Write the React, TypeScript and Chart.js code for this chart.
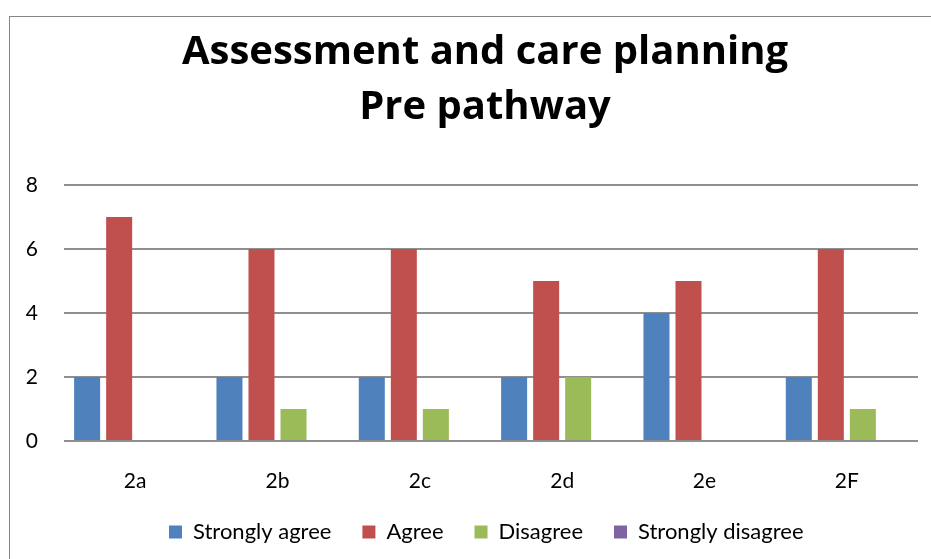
import React, { useEffect, useRef } from "react";
import { Chart, registerables } from "chart.js";
Chart.register(...registerables);

const categories = ["2a", "2b", "2c", "2d", "2e", "2F"];
const stronglyAgree = [2, 2, 2, 2, 4, 2];
const agree = [7, 6, 6, 5, 5, 6];
const disagree = [0, 1, 1, 2, 0, 1];
const stronglyDisagree = [0, 0, 0, 0, 0, 0];
const titleLines = ["Assessment and care planning", "Pre pathway"];
const seriesNames = ["Strongly agree", "Agree", "Disagree", "Strongly disagree"];

const FONT = "Lato, 'Open Sans', sans-serif";
const TITLE_FONT = "'Open Sans', Lato, sans-serif";

const boxShift = {
  id: "boxShift",
  afterLayout(chart: any) {
    const lg = chart.legend;
    if (lg) {
      const pad = lg.options.labels.padding;
      lg.left = 159 - pad;
      lg.top = 504 - pad;
    }
    const tb = chart.titleBlock;
    if (tb) {
      tb.left += 21;
      tb.right += 21;
    }
  },
};

export default function App() {
  const ref = useRef<HTMLCanvasElement>(null);
  useEffect(() => {
    if (!ref.current) return;
    const chart = new Chart(ref.current, {
      type: "bar",
      data: {
        labels: categories,
        datasets: [
          { label: seriesNames[0], data: stronglyAgree, backgroundColor: "#4F81BD" },
          { label: seriesNames[1], data: agree, backgroundColor: "#C0504D" },
          { label: seriesNames[2], data: disagree, backgroundColor: "#9BBB59" },
          { label: seriesNames[3], data: stronglyDisagree, backgroundColor: "#8064A2" },
        ],
      },
      plugins: [boxShift],
      options: {
        animation: false,
        responsive: true,
        maintainAspectRatio: false,
        layout: { padding: { left: 0, right: 13, top: 0, bottom: 0 } },
        datasets: { bar: { categoryPercentage: 0.9, barPercentage: 0.8125 } },
        plugins: {
          title: {
            display: true,
            text: titleLines,
            color: "#000",
            font: { family: TITLE_FONT, size: 40, weight: "bold", lineHeight: 1.375 },
            padding: { top: 8, bottom: 50 },
          },
          legend: {
            position: "bottom",
            align: "start",
            labels: {
              color: "#000",
              font: { family: FONT, size: 22 },
              boxWidth: 13,
              boxHeight: 13,
              padding: 31,
            },
          },
          tooltip: { enabled: false },
        },
        scales: {
          x: {
            afterFit: (s: any) => { s.height = 55; },
            grid: { display: false },
            border: { display: false },
            ticks: { color: "#000", font: { family: FONT, size: 21 }, padding: 20 },
          },
          y: {
            min: 0,
            max: 8,
            afterFit: (s: any) => { s.width = 54; },
            grid: { color: "#8f8f8f", lineWidth: 2, drawTicks: false },
            border: { display: false },
            ticks: { stepSize: 2, color: "#000", font: { family: FONT, size: 21 }, padding: 26 },
          },
        },
      },
    });
    return () => chart.destroy();
  }, []);
  return (
    <div
      style={{
        position: "absolute",
        left: 9,
        top: 16,
        width: 921,
        height: 542,
        borderLeft: "1px solid #868686",
        borderTop: "1px solid #868686",
        background: "#fff",
      }}
    >
      <canvas ref={ref} />
    </div>
  );
}
